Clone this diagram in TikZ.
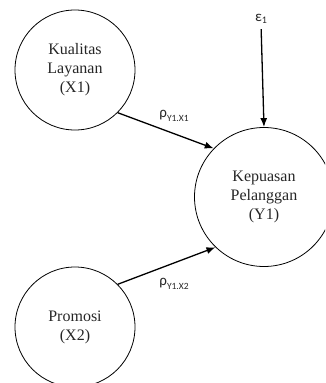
\documentclass[tikz,border=0pt]{standalone}
\usepackage{fontspec}
\setmainfont{Liberation Serif}
\newfontfamily\carlito{Carlito}
\usetikzlibrary{arrows.meta}
\begin{document}
\begin{tikzpicture}[x=1pt,y=-1pt,
  latent/.style={circle,draw,line width=0.8pt,inner sep=0pt,align=center,
    font=\fontsize{16}{19}\selectfont,text=black!85},
  path/.style={line width=1.3pt,-{Latex[length=9pt,width=7pt]}},
  coef/.style={font=\carlito\fontsize{15}{15}\selectfont,text=black!85,inner sep=0pt}]
\useasboundingbox (0,0) rectangle (325,383);
\clip (0,0) rectangle (325,383);
\node[latent,minimum size=120pt] (x1) at (75,70) {Kualitas\\Layanan\\(X1)};
\node[latent,minimum size=120pt] (x2) at (75,327) {Promosi\\(X2)};
\node[latent,minimum size=139pt] (y1) at (264,197) {Kepuasan\\Pelanggan\\(Y1)};
\node[coef] (e1) at (261,19) {ε\raisebox{-2.5pt}{\fontsize{10}{10}\selectfont 1}};
\node[coef] (r1) at (174,116) {ρ\raisebox{-4pt}{\fontsize{9.5}{10}\selectfont Y1.X1}};
\node[coef] (r2) at (174,284) {ρ\raisebox{-4pt}{\fontsize{9.5}{10}\selectfont Y1.X2}};
\draw[path,shorten <=5pt] (e1.south) -- (y1.north);
\draw[path] (x1.-45) -- (y1.136);
\draw[path] (x2.45) -- (y1.226);
\end{tikzpicture}
\end{document}
